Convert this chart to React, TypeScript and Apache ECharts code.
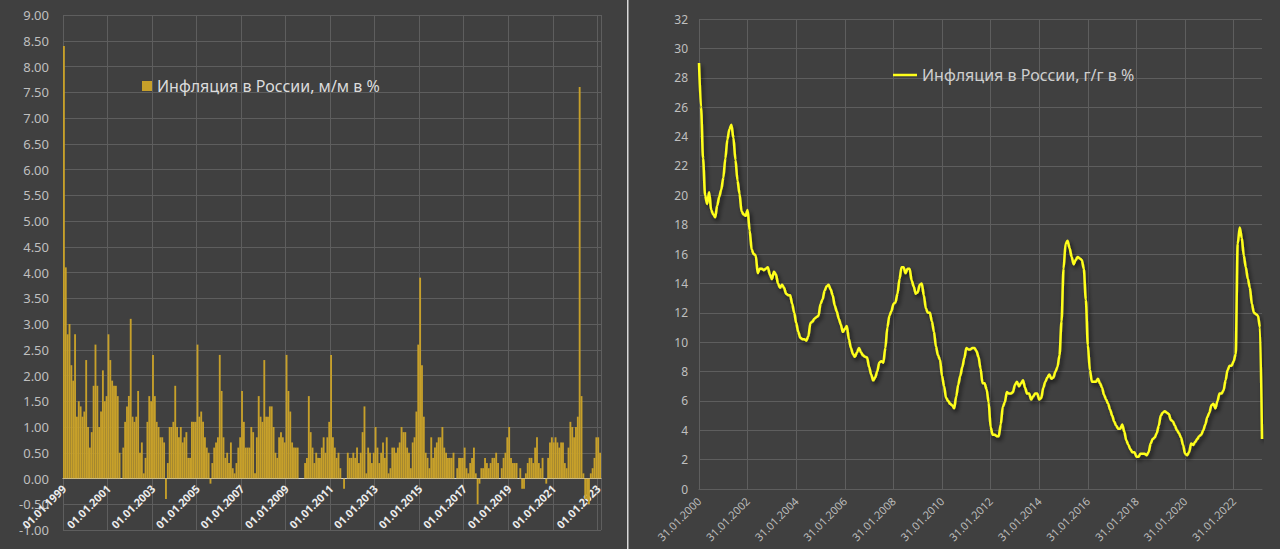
import React, { useEffect, useRef } from "react";
import * as echarts from "echarts";

// Monthly CPI, % m/m, Jan 1999 .. Feb 2023
const momValues: number[] = [
  8.4, 4.1, 2.8, 3.0, 2.2, 1.9, 2.8, 1.2, 1.5, 1.4, 1.2, 1.3, // 1999
  2.3, 1.0, 0.6, 0.9, 1.8, 2.6, 1.8, 1.0, 1.3, 2.1, 1.5, 1.6, // 2000
  2.8, 2.3, 1.9, 1.8, 1.8, 1.6, 0.5, 0.0, 0.6, 1.1, 1.4, 1.6, // 2001
  3.1, 1.2, 1.1, 1.2, 1.7, 0.5, 0.7, 0.1, 0.4, 1.1, 1.6, 1.5, // 2002
  2.4, 1.6, 1.1, 1.0, 0.8, 0.8, 0.7, -0.4, 0.3, 1.0, 1.0, 1.1, // 2003
  1.8, 1.0, 0.8, 1.0, 0.7, 0.8, 0.9, 0.4, 0.4, 1.1, 1.1, 1.1, // 2004
  2.6, 1.2, 1.3, 1.1, 0.8, 0.6, 0.5, -0.1, 0.3, 0.6, 0.7, 0.8, // 2005
  2.4, 1.7, 0.8, 0.4, 0.5, 0.3, 0.7, 0.2, 0.1, 0.3, 0.6, 0.8, // 2006
  1.7, 1.1, 0.6, 0.6, 0.6, 1.0, 0.9, 0.1, 0.8, 1.6, 1.2, 1.1, // 2007
  2.3, 1.2, 1.2, 1.4, 1.4, 1.0, 0.5, 0.4, 0.8, 0.9, 0.8, 0.7, // 2008
  2.4, 1.7, 1.3, 0.7, 0.6, 0.6, 0.6, 0.0, 0.0, 0.0, 0.3, 0.4, // 2009
  1.6, 0.9, 0.6, 0.3, 0.5, 0.4, 0.4, 0.6, 0.8, 0.5, 0.8, 1.1, // 2010
  2.4, 0.8, 0.6, 0.4, 0.5, 0.2, 0.0, -0.2, 0.0, 0.5, 0.4, 0.4, // 2011
  0.5, 0.4, 0.6, 0.3, 0.5, 0.9, 1.4, 0.1, 0.6, 0.5, 0.3, 0.5, // 2012
  1.0, 0.6, 0.3, 0.5, 0.7, 0.4, 0.8, 0.1, 0.2, 0.6, 0.6, 0.5, // 2013
  0.6, 0.7, 1.0, 0.9, 0.9, 0.6, 0.5, 0.2, 0.7, 0.8, 1.3, 2.6, // 2014
  3.9, 2.2, 1.2, 0.5, 0.4, 0.2, 0.8, 0.4, 0.6, 0.7, 0.8, 0.8, // 2015
  1.0, 0.6, 0.5, 0.4, 0.4, 0.4, 0.5, 0.0, 0.2, 0.4, 0.4, 0.4, // 2016
  0.6, 0.2, 0.1, 0.3, 0.4, 0.6, 0.1, -0.5, -0.1, 0.2, 0.2, 0.4, // 2017
  0.3, 0.2, 0.3, 0.4, 0.4, 0.5, 0.3, 0.0, 0.2, 0.4, 0.5, 0.8, // 2018
  1.0, 0.4, 0.3, 0.3, 0.3, 0.0, 0.2, -0.2, -0.2, 0.1, 0.3, 0.4, // 2019
  0.4, 0.3, 0.6, 0.8, 0.3, 0.2, 0.4, 0.0, -0.1, 0.4, 0.7, 0.8, // 2020
  0.7, 0.8, 0.7, 0.6, 0.7, 0.7, 0.3, 0.2, 0.6, 1.1, 1.0, 0.8, // 2021
  1.0, 1.2, 7.6, 1.6, 0.1, -0.4, -0.4, -0.5, 0.1, 0.2, 0.4, 0.8, // 2022
  0.8, 0.5, // 2023
];

// CPI, % y/y, Jan 2000 .. Mar 2023
const yoyValues: number[] = [
  29.0, 26.0, 22.5, 20.0, 19.4, 20.2, 19.0, 18.7, 18.5, 19.3, 19.9, 20.4, // 2000
  21.2, 22.5, 23.8, 24.5, 24.8, 23.9, 22.4, 21.0, 20.1, 18.9, 18.7, 18.6, // 2001
  19.0, 17.6, 16.3, 16.0, 15.9, 14.7, 15.0, 15.0, 14.9, 15.0, 15.1, 14.6, // 2002
  14.3, 14.8, 14.6, 14.0, 13.7, 13.9, 13.7, 13.3, 13.2, 13.2, 12.6, 12.0, // 2003
  11.3, 10.7, 10.3, 10.2, 10.2, 10.1, 10.4, 11.3, 11.4, 11.6, 11.7, 11.8, // 2004
  12.6, 12.9, 13.5, 13.8, 13.9, 13.6, 13.2, 12.5, 12.1, 11.6, 11.2, 10.7, // 2005
  10.9, 11.1, 10.2, 9.6, 9.2, 9.0, 9.3, 9.6, 9.3, 9.1, 9.0, 8.95, // 2006
  8.3, 7.8, 7.4, 7.6, 8.0, 8.6, 8.7, 8.6, 9.6, 11.0, 11.8, 12.1, // 2007
  12.6, 12.7, 13.3, 14.3, 15.1, 15.1, 14.7, 15.0, 15.0, 14.2, 13.8, 13.3, // 2008
  13.4, 13.9, 14.0, 13.2, 12.3, 12.0, 12.0, 11.4, 10.7, 9.7, 9.1, 8.8, // 2009
  7.7, 7.0, 6.2, 6.0, 5.8, 5.7, 5.5, 6.3, 7.1, 7.7, 8.3, 8.9, // 2010
  9.6, 9.5, 9.5, 9.6, 9.6, 9.4, 9.0, 8.2, 7.2, 7.2, 6.8, 5.9, // 2011
  4.2, 3.7, 3.7, 3.6, 3.6, 4.4, 5.6, 5.9, 6.6, 6.5, 6.5, 6.6, // 2012
  7.1, 7.3, 7.0, 7.2, 7.4, 6.9, 6.5, 6.5, 6.1, 6.3, 6.5, 6.5, // 2013
  6.1, 6.2, 6.9, 7.3, 7.6, 7.8, 7.5, 7.6, 8.0, 8.3, 9.1, 11.4, // 2014
  15.0, 16.7, 16.9, 16.4, 15.8, 15.3, 15.6, 15.8, 15.7, 15.6, 15.0, 12.9, // 2015
  9.8, 8.1, 7.3, 7.3, 7.3, 7.5, 7.2, 6.9, 6.4, 6.1, 5.8, 5.4, // 2016
  5.0, 4.6, 4.3, 4.1, 4.1, 4.4, 3.9, 3.3, 3.0, 2.7, 2.5, 2.5, // 2017
  2.2, 2.2, 2.4, 2.4, 2.4, 2.3, 2.5, 3.1, 3.4, 3.5, 3.8, 4.3, // 2018
  5.0, 5.2, 5.3, 5.2, 5.1, 4.7, 4.6, 4.3, 4.0, 3.8, 3.5, 3.0, // 2019
  2.4, 2.3, 2.5, 3.1, 3.0, 3.2, 3.4, 3.6, 3.7, 4.0, 4.4, 4.9, // 2020
  5.2, 5.7, 5.8, 5.5, 6.0, 6.5, 6.5, 6.7, 7.4, 8.1, 8.4, 8.4, // 2021
  8.7, 9.2, 16.7, 17.8, 17.1, 15.9, 15.1, 14.3, 13.7, 12.6, 12.0, 11.9, // 2022
  11.8, 11.0, 3.4, // 2023
];

const momStartYear = 1999;
const yoyStartYear = 2000;
const momName = "Инфляция в России, м/м в %";
const yoyName = "Инфляция в России, г/г в %";
const momMin = -1;
const momMax = 9;

const pad = (n: number) => (n < 10 ? "0" + n : String(n));
const momLabels: string[] = momValues.map((_, i) => {
  const y = momStartYear + Math.floor(i / 12);
  const m = (i % 12) + 1;
  return `01.${pad(m)}.${y}`;
});
const yoyLabels: string[] = yoyValues.map((_, i) => {
  const y = yoyStartYear + Math.floor(i / 12);
  const m = (i % 12) + 1;
  const d = new Date(y, m, 0).getDate();
  return `${pad(d)}.${pad(m)}.${y}`;
});

const FONT = "'Noto Sans', 'Open Sans', sans-serif";
const GRID = "#5e5e5e";

// left grid geometry
const L_TOP = 15;
const L_BOTTOM = 19;
const CHART_H = 549;

export default function App() {
  const ref = useRef<HTMLDivElement>(null);
  useEffect(() => {
    if (!ref.current) return;
    const chart = echarts.init(ref.current, null, { renderer: "svg" });
    const plotH = CHART_H - L_TOP - L_BOTTOM;
    // distance from the bottom of the plot to the zero line
    const zeroOffset = (plotH * (0 - momMin)) / (momMax - momMin);
    chart.setOption({
      animation: false,
      backgroundColor: "#404040",
      textStyle: { fontFamily: FONT },
      grid: [
        { left: 63, right: 679, top: L_TOP, bottom: L_BOTTOM, outerBoundsMode: "none", containLabel: false },
        { left: 699, right: 18, top: 19, bottom: 60, outerBoundsMode: "none", containLabel: false },
      ],
      legend: [
        {
          data: [momName],
          left: 142,
          top: 78,
          padding: 0,
          icon: "rect",
          itemWidth: 10,
          itemHeight: 10,
          textStyle: { color: "#dcdcdc", fontSize: 16, fontFamily: FONT },
        },
        {
          data: [yoyName],
          left: 893,
          top: 67,
          padding: 0,
          icon: "rect",
          itemWidth: 24,
          itemHeight: 2.5,
          textStyle: { color: "#cfcfcf", fontSize: 16, fontFamily: FONT },
        },
      ],
      xAxis: [
        {
          type: "category",
          gridIndex: 0,
          data: momLabels,
          boundaryGap: true,
          position: "bottom",
          offset: -zeroOffset,
          axisLine: { onZero: false, lineStyle: { color: "#d0d0d0", width: 1 } },
          axisTick: { show: false },
          axisLabel: {
            interval: 23,
            rotate: 45,
            color: "#ececec",
            fontWeight: "bold",
            fontSize: 11,
            margin: 8,
            fontFamily: FONT,
          },
          splitLine: { show: true, interval: 23, lineStyle: { color: GRID, width: 1 } },
        },
        {
          type: "category",
          gridIndex: 1,
          data: yoyLabels,
          boundaryGap: false,
          axisLine: { lineStyle: { color: GRID, width: 1 } },
          axisTick: { show: false },
          axisLabel: {
            interval: 23,
            rotate: 45,
            color: "#bdbdbd",
            fontSize: 11,
            margin: 10,
            fontFamily: FONT,
          },
          splitLine: { show: true, interval: 23, lineStyle: { color: GRID, width: 1 } },
        },
      ],
      yAxis: [
        {
          type: "value",
          gridIndex: 0,
          min: momMin,
          max: momMax,
          interval: 0.5,
          axisLine: { show: false },
          axisTick: { show: false },
          axisLabel: {
            color: "#bfbfbf",
            fontSize: 13,
            margin: 14,
            fontFamily: FONT,
            formatter: (v: number) => v.toFixed(2),
          },
          splitLine: { lineStyle: { color: GRID, width: 1 } },
        },
        {
          type: "value",
          gridIndex: 1,
          min: 0,
          max: 32,
          interval: 2,
          axisLine: { show: false },
          axisTick: { show: false },
          axisLabel: { color: "#bfbfbf", fontSize: 12, margin: 11, fontFamily: FONT },
          splitLine: { lineStyle: { color: GRID, width: 1 } },
        },
      ],
      series: [
        {
          name: momName,
          type: "bar",
          xAxisIndex: 0,
          yAxisIndex: 0,
          data: momValues,
          barCategoryGap: "0%",
          itemStyle: { color: "#c7a02a" },
        },
        {
          name: yoyName,
          type: "line",
          xAxisIndex: 1,
          yAxisIndex: 1,
          data: yoyValues,
          smooth: 0.3,
          smoothMonotone: "x",
          symbol: "none",
          itemStyle: { color: "#ffff1a" },
          lineStyle: {
            color: "#ffff1a",
            width: 2.5,
            shadowColor: "rgba(0,0,0,0.65)",
            shadowBlur: 4,
            shadowOffsetX: 2,
            shadowOffsetY: 3,
          },
        },
      ],
      graphic: [
        {
          type: "rect",
          shape: { x: 627, y: 0, width: 1.5, height: 549 },
          style: { fill: "#d8d8d8" },
          silent: true,
        },
      ],
    });
    return () => chart.dispose();
  }, []);
  return (
    <div
      ref={ref}
      style={{ position: "absolute", left: 0, top: 0, width: 1280, height: 549 }}
    />
  );
}
